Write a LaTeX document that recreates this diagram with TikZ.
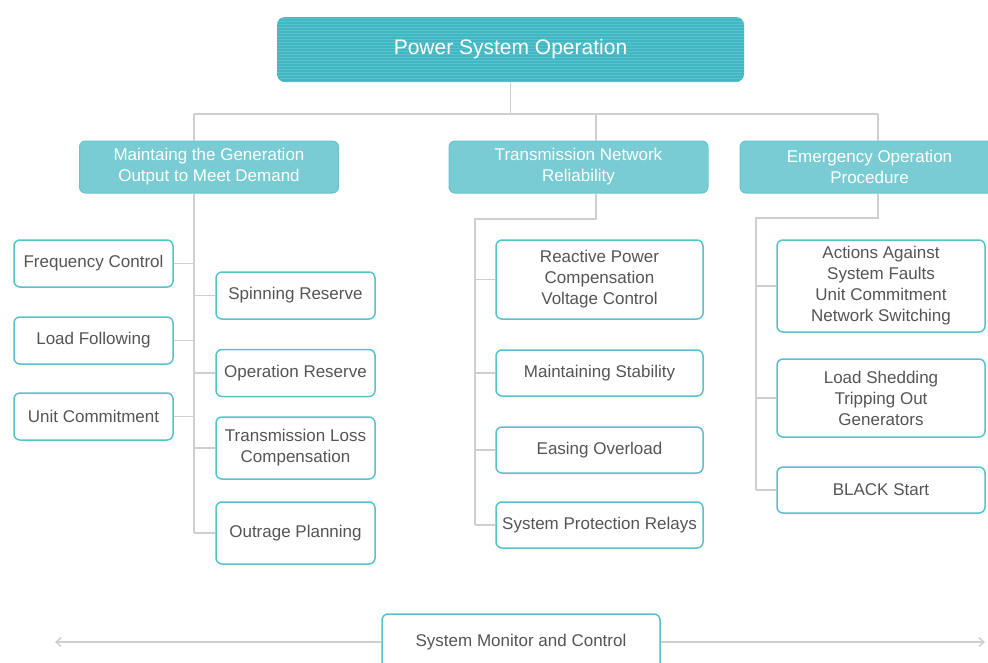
\documentclass[tikz,border=0pt]{standalone}
\usepackage{fontspec}
\setmainfont{Liberation Sans}
\usetikzlibrary{arrows.meta}
\definecolor{topfill}{HTML}{40B7C3}
\definecolor{stripecol}{HTML}{5AC2CC}
\definecolor{catfill}{HTML}{79CCD3}
\definecolor{catborder}{HTML}{68C5CD}
\definecolor{boxborder}{HTML}{55C2CC}
\definecolor{txt}{HTML}{555555}
\definecolor{conncol}{HTML}{CFCFCF}
\tikzset{
  topbox/.style={rounded corners=8pt, fill=topfill, text=white,
    font=\fontsize{21}{25}\selectfont, minimum width=467pt, minimum height=65pt, inner sep=0pt,
    path picture={\foreach \k in {0,...,22}
      \draw[stripecol, line width=0.7pt] ([yshift=-\k*3pt-1.5pt]path picture bounding box.north west) -- ++(470pt,0pt);}},
  catbox/.style={rounded corners=6pt, fill=catfill, draw=catborder, line width=1pt, text=white,
    font=\fontsize{17}{21}\selectfont, align=center, inner sep=0pt,
    minimum height=52pt, minimum width=259pt},
  wbox/.style={rounded corners=6pt, draw=boxborder, line width=1.5pt, fill=white, text=txt,
    font=\fontsize{17}{21}\selectfont, align=center, inner sep=0pt},
  conn/.style={draw=conncol, line width=1.5pt},
  arr/.style={draw=conncol, line width=1.5pt, -{Straight Barb[length=5pt,width=9pt]}}
}
\begin{document}
\begin{tikzpicture}[x=1pt,y=-1pt]
\clip (0,0) rectangle (988,662);
\fill[white] (0,0) rectangle (988,662);

\coordinate (hub) at (510.5,114);
\coordinate (busL) at (194,114);
\coordinate (busM) at (596,114);
\coordinate (busR) at (878,114);
\coordinate (e2) at (596,219);
\coordinate (s2) at (475,219);
\coordinate (e3) at (878,218);
\coordinate (s3) at (756,218);
\coordinate (al) at (55,642);
\coordinate (ar) at (985,642);

\node[topbox] (top) at (510.5,49.5) {Power System Operation};
\node[catbox] (c1) at (209,167) {Maintaing the Generation\\Output to Meet Demand};
\node[catbox] (c2) at (578.5,167) {Transmission Network\\Reliability};
\node[catbox] (c3) at (869.5,167) {Emergency Operation\\Procedure};

% left group
\node[wbox, minimum width=159pt, minimum height=47pt] (fc) at (93.5,263.5) {Frequency Control};
\node[wbox, minimum width=159pt, minimum height=47pt] (lf) at (93.5,340.5) {Load Following};
\node[wbox, minimum width=159pt, minimum height=47pt] (uc) at (93.5,416.5) {Unit Commitment};
\node[wbox, minimum width=159pt, minimum height=47pt] (sr) at (295.5,295.5) {Spinning Reserve};
\node[wbox, minimum width=159pt, minimum height=47pt] (or) at (295.5,373) {Operation Reserve};
\node[wbox, minimum width=159pt, minimum height=62pt] (tl) at (295.5,448) {Transmission Loss\\Compensation};
\node[wbox, minimum width=159pt, minimum height=62pt] (op) at (295.5,533) {Outrage Planning};

% middle group
\node[wbox, minimum width=207pt, minimum height=79pt] (rp) at (599.5,279.5) {Reactive Power\\Compensation\\Voltage Control};
\node[wbox, minimum width=207pt, minimum height=46pt] (ms) at (599.5,373) {Maintaining Stability};
\node[wbox, minimum width=207pt, minimum height=46pt] (eo) at (599.5,450) {Easing Overload};
\node[wbox, minimum width=207pt, minimum height=46pt] (sp) at (599.5,525) {System Protection Relays};

% right group
\node[wbox, minimum width=208pt, minimum height=92pt] (aa) at (881,286) {Actions Against\\System Faults\\Unit Commitment\\Network Switching};
\node[wbox, minimum width=208pt, minimum height=78pt] (ls) at (881,398) {Load Shedding\\Tripping Out\\Generators};
\node[wbox, minimum width=208pt, minimum height=46pt] (bs) at (881,490) {BLACK Start};

% bottom
\node[wbox, minimum width=278pt, minimum height=56pt] (sm) at (521,642) {System Monitor and Control};

% connectors
\draw[conn] (top.south) -- (hub);
\draw[conn] (busL) -- (busR);
\draw[conn] (busL) -- (busL |- c1.north);
\draw[conn] (busM) -- (busM |- c2.north);
\draw[conn] (busR) -- (busR |- c3.north);

\draw[conn] (busL |- c1.south) -- (busL |- op.west);
\foreach \n in {fc,lf,uc} \draw[conn] (\n.east) -- (\n.east -| busL);
\foreach \n in {sr,or,tl,op} \draw[conn] (\n.west) -- (\n.west -| busL);

\draw[conn] (busM |- c2.south) -- (e2) -- (s2) -- (s2 |- sp.west);
\foreach \n in {rp,ms,eo,sp} \draw[conn] (\n.west) -- (\n.west -| s2);

\draw[conn] (busR |- c3.south) -- (e3) -- (s3) -- (s3 |- bs.west);
\foreach \n in {aa,ls,bs} \draw[conn] (\n.west) -- (\n.west -| s3);

\draw[arr] (sm.west) -- (al);
\draw[arr] (sm.east) -- (ar);
\end{tikzpicture}
\end{document}
